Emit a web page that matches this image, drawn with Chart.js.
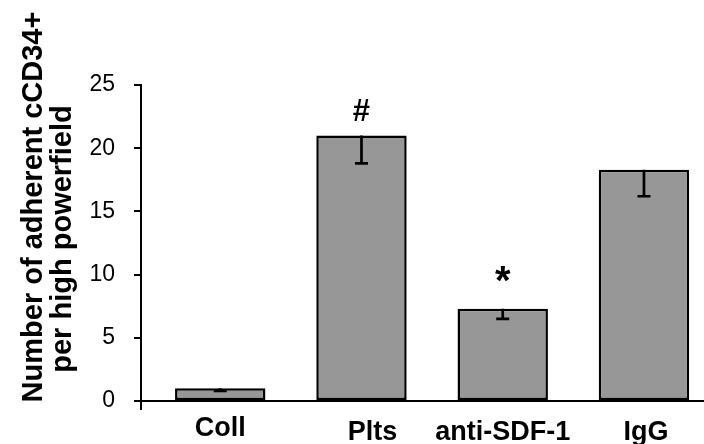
<!DOCTYPE html>
<html>
<head>
<meta charset="utf-8">
<script src="https://cdn.jsdelivr.net/npm/chart.js@4"></script>
<style>
  html, body { margin: 0; padding: 0; background: #fff; overflow: hidden; }
  #chart { display: block; }
</style>
</head>
<body>
<canvas id="chart" width="704" height="444"></canvas>
<script>
// values
const groups = ["Coll", "Plts", "anti-SDF-1", "IgG"];
const means = [1.0, 21.0, 7.3, 18.3];
const errors = [0.2, 2.2, 0.8, 2.1];
const marks = ["", "#", "*", ""];
const yTicks = [0, 5, 10, 15, 20, 25];
const yTitle = ["Number of adherent cCD34+", "per high powerfield"];

const FONT = "'Liberation Sans', Arial, sans-serif";

// lower error bars + significance marks
const errorBars = {
    id: "errorBars",
    afterDatasetsDraw(chart) {
        const ctx = chart.ctx;
        const y = chart.scales.y;
        const bars = chart.getDatasetMeta(0).data;
        ctx.save();
        ctx.strokeStyle = "#000";
        ctx.lineWidth = 2.7;
        bars.forEach((bar, i) => {
            const top = y.getPixelForValue(means[i]);
            const low = y.getPixelForValue(means[i] - errors[i]);
            ctx.beginPath();
            ctx.moveTo(bar.x, top);
            ctx.lineTo(bar.x, low);
            ctx.moveTo(bar.x - 6.5, low);
            ctx.lineTo(bar.x + 6.5, low);
            ctx.stroke();

            if (marks[i]) {
                const isStar = marks[i] === "*";
                ctx.font = "bold " + (isStar ? 40 : 31) + "px " + FONT;
                ctx.fillStyle = "#000";
                ctx.textAlign = "center";
                ctx.textBaseline = "alphabetic";
                const m = ctx.measureText(marks[i]);
                const gap = isStar ? 27 : 15;
                // bottom of the glyph sits 'gap' px above the bar top
                ctx.fillText(marks[i], bar.x, top - gap - m.actualBoundingBoxDescent);
            }
        });
        ctx.restore();
    }
};

// category labels, axis stub and rotated y title
const axisText = {
    id: "axisText",
    afterDraw(chart) {
        const ctx = chart.ctx;
        const area = chart.chartArea;
        const x = chart.scales.x;
        ctx.save();

        // short piece of the y axis below the x axis
        ctx.strokeStyle = "#000";
        ctx.lineWidth = 2;
        ctx.beginPath();
        ctx.moveTo(area.left, area.bottom);
        ctx.lineTo(area.left, area.bottom + 9);
        ctx.stroke();

        ctx.fillStyle = "#000";
        ctx.font = "bold 27px " + FONT;
        ctx.textAlign = "center";
        ctx.textBaseline = "alphabetic";
        const nudge = [0, 11, 0, 2];
        const drop = [0, 4, 4, 4];
        groups.forEach((g, i) => {
            ctx.fillText(g, x.getPixelForValue(i) + nudge[i], area.bottom + 35 + drop[i]);
        });

        // y title: two lines, each with its own centre
        ctx.font = "bold 29px " + FONT;
        ctx.save();
        ctx.translate(42, 207);
        ctx.rotate(-Math.PI / 2);
        ctx.fillText(yTitle[0], 0, 0);
        ctx.restore();
        ctx.save();
        ctx.translate(71, 239);
        ctx.rotate(-Math.PI / 2);
        ctx.fillText(yTitle[1], 0, 0);
        ctx.restore();

        ctx.restore();
    }
};

new Chart(document.getElementById("chart"), {
    type: "bar",
    data: {
        datasets: [{
            data: means.map((v, i) => ({ x: i, y: v })),
            backgroundColor: "#979797",
            borderColor: "#000",
            borderWidth: 2.5,
            borderSkipped: false,
            barPercentage: 0.64,
            categoryPercentage: 1
        }]
    },
    options: {
        responsive: false,
        animation: false,
        devicePixelRatio: 1,
        layout: { padding: { top: 85, right: 0, bottom: 0, left: 0 } },
        plugins: { legend: { display: false }, tooltip: { enabled: false } },
        scales: {
            x: {
                type: "linear",
                min: -0.561,
                max: 3.425,
                offset: false,
                afterBuildTicks(scale) { scale.ticks = groups.map((g, i) => ({ value: i })); },
                grid: { display: false },
                border: { display: true, color: "#000", width: 2 },
                ticks: { display: false },
                afterFit(scale) { scale.height = 43; }
            },
            y: {
                min: 0,
                max: 25,
                afterBuildTicks(scale) { scale.ticks = yTicks.map(v => ({ value: v })); },
                grid: {
                    display: true,
                    drawOnChartArea: false,
                    drawTicks: true,
                    tickLength: 7,
                    color: "#000",
                    lineWidth: 2
                },
                border: { display: true, color: "#000", width: 2 },
                ticks: {
                    color: "#000",
                    padding: 19,
                    font: { family: FONT, size: 23 }
                },
                afterFit(scale) { scale.width = 141; }
            }
        }
    },
    plugins: [errorBars, axisText]
});
</script>
</body>
</html>
